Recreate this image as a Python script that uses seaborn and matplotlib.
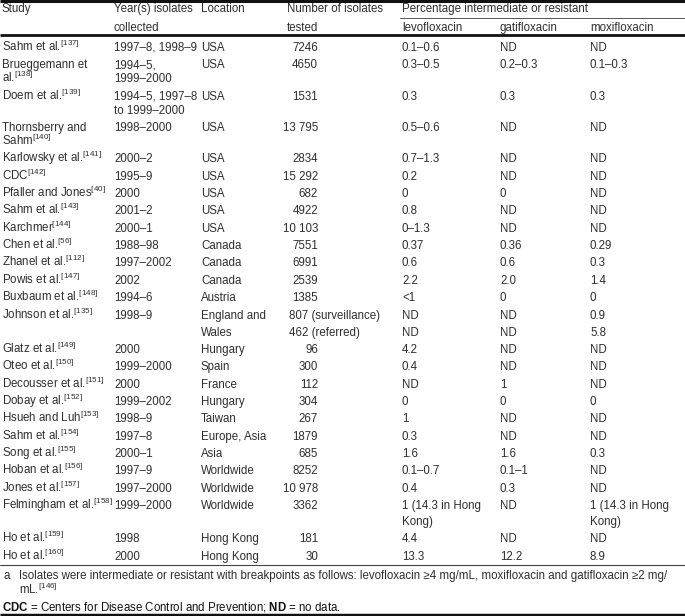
import pandas as pd
import seaborn as sns
import matplotlib.pyplot as plt

sns.set_theme(style="white")
plt.rcParams['font.family'] = ['Liberation Sans', 'DejaVu Sans']
plt.rcParams['mathtext.fontset'] = 'custom'
plt.rcParams['mathtext.rm'] = 'Liberation Sans'
plt.rcParams['mathtext.it'] = 'Liberation Sans:italic'
plt.rcParams['mathtext.bf'] = 'Liberation Sans:bold'

# Table data
study = ["Sahm et al.$^{[137]}$", "Brueggemann et\nal.$^{[138]}$", "Doern et al.$^{[139]}$",
         "Thornsberry and\nSahm$^{[140]}$", "Karlowsky et al.$^{[141]}$", "CDC$^{[142]}$",
         "Pfaller and Jones$^{[40]}$", "Sahm et al.$^{[143]}$", "Karchmer$^{[144]}$",
         "Chen et al.$^{[56]}$", "Zhanel et al.$^{[112]}$", "Powis et al.$^{[147]}$",
         "Buxbaum et al.$^{[148]}$", "Johnson et al.$^{[135]}$", "Glatz et al.$^{[149]}$",
         "Oteo et al.$^{[150]}$", "Decousser et al.$^{[151]}$", "Dobay et al.$^{[152]}$",
         "Hsueh and Luh$^{[153]}$", "Sahm et al.$^{[154]}$", "Song et al.$^{[155]}$",
         "Hoban et al.$^{[156]}$", "Jones et al.$^{[157]}$", "Felmingham et al.$^{[158]}$",
         "Ho et al.$^{[159]}$", "Ho et al.$^{[160]}$"]
years = ["1997–8, 1998–9", "1994–5,\n1999–2000", "1994–5, 1997–8\nto 1999–2000", "1998–2000",
         "2000–2", "1995–9", "2000", "2001–2", "2000–1", "1988–98", "1997–2002", "2002",
         "1994–6", "1998–9", "2000", "1999–2000", "2000", "1999–2002", "1998–9", "1997–8",
         "2000–1", "1997–9", "1997–2000", "1999–2000", "1998", "2000"]
location = ["USA", "USA", "USA", "USA", "USA", "USA", "USA", "USA", "USA", "Canada", "Canada",
            "Canada", "Austria", "England and\nWales", "Hungary", "Spain", "France", "Hungary",
            "Taiwan", "Europe, Asia", "Asia", "Worldwide", "Worldwide", "Worldwide",
            "Hong Kong", "Hong Kong"]
n_tested = ["7246", "4650", "1531", "13 795", "2834", "15 292", "682", "4922", "10 103", "7551",
            "6991", "2539", "1385", "807 (surveillance)\n462 (referred)", "96", "300", "112",
            "304", "267", "1879", "685", "8252", "10 978", "3362", "181", "30"]
levofloxacin = ["0.1–0.6", "0.3–0.5", "0.3", "0.5–0.6", "0.7–1.3", "0.2", "0", "0.8", "0–1.3",
                "0.37", "0.6", "2.2", "<1", "ND\nND", "4.2", "0.4", "ND", "0", "1", "0.3", "1.6",
                "0.1–0.7", "0.4", "1 (14.3 in Hong\nKong)", "4.4", "13.3"]
gatifloxacin = ["ND", "0.2–0.3", "0.3", "ND", "ND", "ND", "0", "ND", "ND", "0.36", "0.6", "2.0",
                "0", "ND\nND", "ND", "ND", "1", "0", "ND", "ND", "1.6", "0.1–1", "0.3", "ND",
                "ND", "12.2"]
moxifloxacin = ["ND", "0.1–0.3", "0.3", "ND", "ND", "ND", "ND", "ND", "ND", "0.29", "0.3", "1.4",
                "0", "0.9\n5.8", "ND", "ND", "ND", "0", "ND", "ND", "0.3", "ND", "ND",
                "1 (14.3 in Hong\nKong)", "ND", "8.9"]

df = pd.DataFrame({"Study": study, "Years": years, "Location": location, "N": n_tested,
                   "levofloxacin": levofloxacin, "gatifloxacin": gatifloxacin,
                   "moxifloxacin": moxifloxacin})

# column x positions (left edge, or right edge for the number column)
col_x = {"Study": 2, "Years": 114, "Location": 201, "N": 318,
         "levofloxacin": 402, "gatifloxacin": 500, "moxifloxacin": 590}
fs = 8.3
tc = "#2e2e2e"
row_h = 17.35
# line pitch inside wrapped cells (tighter in the upper rows)
wrap_pitch = {1: 14, 2: 14, 3: 14, 13: 17, 23: 16}
base = 4  # baseline offset from row centre


def put(x, yc, s, ha="left", color=tc):
    ax.text(x, yc + base, s, fontsize=fs, color=color, va="baseline", ha=ha)


fig = plt.figure(figsize=(6.85, 6.16), dpi=100)
ax = fig.add_axes([0, 0, 1, 1])
ax.set_xlim(0, 685)
ax.set_ylim(616, 0)
ax.axis("off")

# header
hdr1 = [("Study", 2), ("Year(s) isolates", 114), ("Location", 201), ("Number of isolates", 287),
        ("Percentage intermediate or resistant", 402)]
hdr2 = [("collected", 114), ("tested", 287), ("levofloxacin", 402), ("gatifloxacin", 500),
        ("moxifloxacin", 590)]
for t, x in hdr1:
    put(x, 8, t)
for t, x in hdr2:
    put(x, 27, t)

ax.plot([0, 685], [1, 1], color="#111", lw=2.2, solid_capstyle="butt")
ax.plot([400, 685], [18, 18], color="#555", lw=0.7)
ax.plot([0, 685], [35, 35], color="#111", lw=2.0, solid_capstyle="butt")

y = 47
for k, row in df.iterrows():
    nlines = max(str(v).count("\n") + 1 for v in row.values)
    p = wrap_pitch.get(k, 16)
    for col, x in col_x.items():
        for i, line in enumerate(str(row[col]).split("\n")):
            if col == "N" and "(" not in line:
                put(x, y + i * p, line, ha="right")
            elif col == "N":
                put(289, y + i * p, line)
            else:
                put(x, y + i * p, line)
    y += row_h + p * (nlines - 1)

ax.plot([0, 685], [565, 565], color="#444", lw=0.8)

# footnotes
put(4, 575, "a")
put(19, 575, "Isolates were intermediate or resistant with breakpoints as follows: "
    "levofloxacin ≥4 mg/mL, moxifloxacin and gatifloxacin ≥2 mg/")
put(19, 590, "mL.$^{[146]}$")
put(2, 606, r"$\mathbf{CDC}$ = Centers for Disease Control and Prevention; "
    r"$\mathbf{ND}$ = no data.", color="#111")
ax.plot([0, 685], [614.5, 614.5], color="#111", lw=2.5, solid_capstyle="butt")

fig.savefig("out.png", dpi=100)
